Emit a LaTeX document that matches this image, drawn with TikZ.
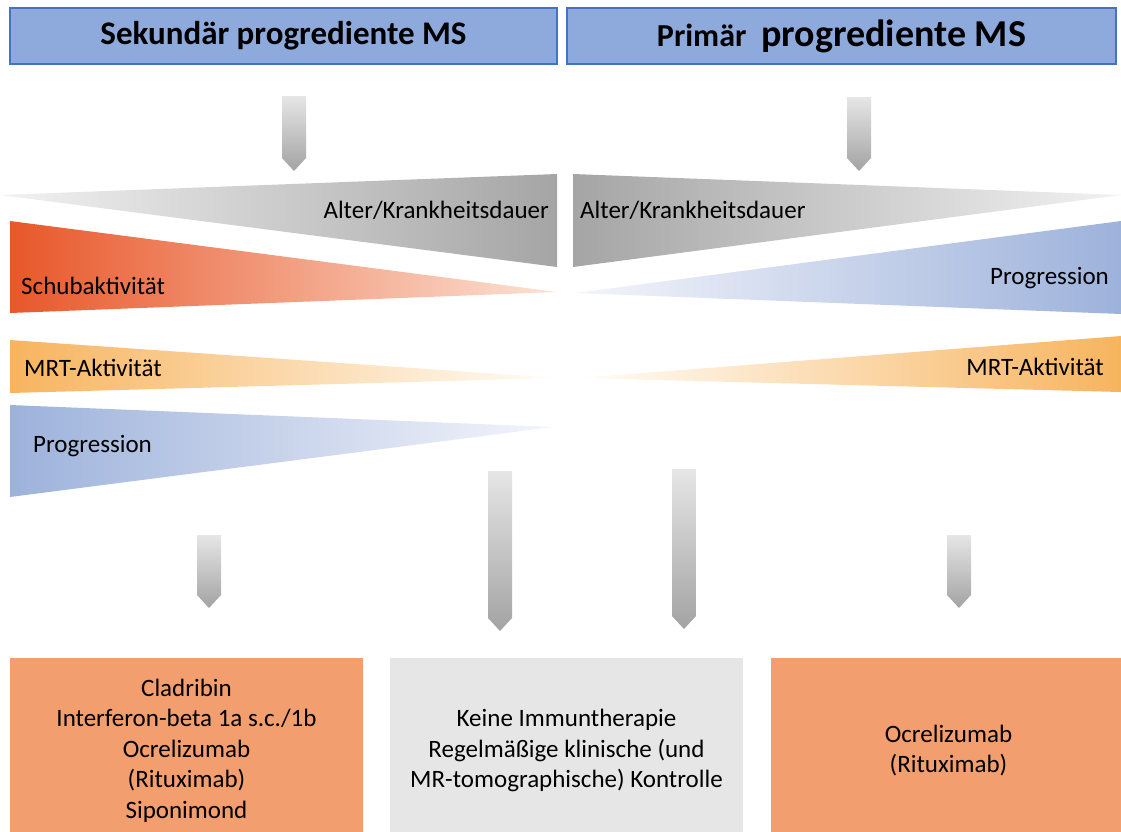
\documentclass[tikz,border=0pt]{standalone}
\usepackage{fontspec}
\setmainfont{Carlito}
\usepackage{xcolor}
\definecolor{headblue}{HTML}{8EA9DB}
\definecolor{headline}{HTML}{4472C4}
\definecolor{boxorange}{HTML}{F39E6E}
\definecolor{boxgray}{HTML}{E7E6E6}
\definecolor{arrtop}{HTML}{E6E6E6}
\definecolor{arrbot}{HTML}{A3A3A3}
\definecolor{agelight}{HTML}{F2F2F2}
\definecolor{agedark}{HTML}{A5A5A5}
\definecolor{schubdark}{HTML}{E8572A}
\definecolor{schublight}{HTML}{FCE3D5}
\definecolor{mrtdark}{HTML}{F7B45E}
\definecolor{mrtlight}{HTML}{FFFDF9}
\definecolor{progdark}{HTML}{9DB2DB}
\definecolor{proglight}{HTML}{F4F5FB}

\newcommand{\grayarrow}[3]{%
  \shade[top color=arrtop, bottom color=arrbot]
    (#1-12,#2) -- (#1+12,#2) -- (#1+12,#3-13) -- (#1,#3) -- (#1-12,#3-13) -- cycle;}

\begin{document}
\begin{tikzpicture}[x=1pt, y=-1pt,
    label/.style={inner sep=0pt, font=\fontsize{25}{30.5}\selectfont},
    headbox/.style={draw=headline, line width=1.5pt, fill=headblue,
                    minimum width=547pt, minimum height=56pt, inner sep=0pt},
    therapy/.style={minimum width=353pt, minimum height=185pt, inner sep=0pt,
                    align=center, font=\fontsize{25}{30.5}\selectfont}]
\useasboundingbox (0,0) rectangle (1121,831);

    \node[headbox] (secHead) at (283.5,36)
        {\bfseries\fontsize{33}{40}\selectfont Sekundär progrediente MS};
    \node[headbox, minimum width=549pt] (primHead) at (841.5,36)
        {\bfseries{\fontsize{32}{40}\selectfont Primär}\hspace{15pt}{\fontsize{38}{40}\selectfont progrediente MS}};

    \grayarrow{294}{96}{171}
    \grayarrow{859}{97}{171}

    \shade[left color=agelight, right color=agedark] (0,195) -- (557,174) -- (557,267) -- cycle;
    \shade[left color=schubdark, right color=schublight] (10,221) -- (557,292) -- (10,313) -- cycle;
    \shade[left color=mrtdark, right color=mrtlight] (10,340) -- (557,378) -- (10,393) -- cycle;
    \shade[left color=progdark, right color=proglight] (10,405) -- (553,427) -- (10,497) -- cycle;

    \shade[left color=agedark, right color=agelight] (573,174) -- (1121,195) -- (573,267) -- cycle;
    \shade[left color=proglight, right color=progdark] (575,293) -- (1121,221) -- (1121,314) -- cycle;
    \shade[left color=mrtlight, right color=mrtdark] (578,378) -- (1121,336) -- (1121,392) -- cycle;

    \node[label, anchor=east] (secAge)   at (549,210) {Alter/Krankheitsdauer};
    \node[label, anchor=west] (secSchub) at (21,286)  {Schubaktivität};
    \node[label, anchor=west] (secMrt)   at (24,368)  {MRT-Aktivität};
    \node[label, anchor=west] (secProg)  at (33,446)  {Progression};
    \node[label, anchor=west] (primAge)  at (580,210) {Alter/Krankheitsdauer};
    \node[label, anchor=east] (primProg) at (1109,278) {Progression};
    \node[label, anchor=east] (primMrt)  at (1104,367) {MRT-Aktivität};

    \grayarrow{209}{535}{608}
    \grayarrow{500}{471}{631}
    \grayarrow{684}{469}{629}
    \grayarrow{959}{535}{608}

    \node[therapy, fill=boxorange] (secTher) at (186.5,750.5)
        {Cladribin\\Interferon-beta 1a s.c./1b\\Ocrelizumab\\(Rituximab)\\Siponimond};
    \node[therapy, fill=boxgray] (noTher) at (566.5,750.5)
        {Keine Immuntherapie\\Regelmäßige klinische (und\\MR-tomographische) Kontrolle};
    \node[therapy, fill=boxorange, minimum width=355pt] (primTher) at (948.5,750.5)
        {Ocrelizumab\\(Rituximab)};
\end{tikzpicture}
\end{document}
